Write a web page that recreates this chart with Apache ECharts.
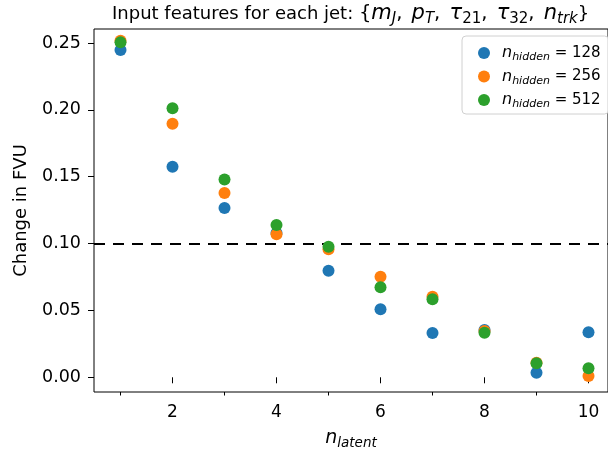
<!DOCTYPE html>
<html>
<head>
<meta charset="utf-8">
<script src="https://cdn.jsdelivr.net/npm/echarts@6/dist/echarts.min.js"></script>
<style>
html, body { margin: 0; padding: 0; background: #fff; }
#chart { width: 608px; height: 451px; }
</style>
</head>
<body>
<div id="chart"></div>
<script>
// values
const nLatent = [1, 2, 3, 4, 5, 6, 7, 8, 9, 10]
const hiddenSizes = ['128', '256', '512']
const fvu128 = [0.2448, 0.1575, 0.1266, 0.1080, 0.0797, 0.0509, 0.0331, 0.0354, 0.0034, 0.0337]
const fvu256 = [0.2517, 0.1897, 0.1378, 0.1070, 0.0957, 0.0752, 0.0603, 0.0346, 0.0109, 0.0010]
const fvu512 = [0.2505, 0.2012, 0.1480, 0.1139, 0.0977, 0.0673, 0.0583, 0.0334, 0.0105, 0.0067]
const threshold = 0.10
const yTicks = [0, 0.05, 0.10, 0.15, 0.20, 0.25]
const xMajorTicks = [2, 4, 6, 8, 10]
const xMinorTicks = [1, 3, 5, 7, 9]

const colors = ['#1f77b4', '#ff7f0e', '#2ca02c']
const FONT = 'DejaVu Sans'

const pairs = (ys) => nLatent.map((x, i) => [x, ys[i]])

// right spine sits at the canvas edge in the reference
const xRange = { min: 0.49, max: 10.375 }

const chart = echarts.init(document.getElementById('chart'))

const commonX = {
  type: 'value',
  min: xRange.min,
  max: xRange.max,
  splitLine: { show: false },
  axisLine: { show: false }
}

chart.setOption({
  animation: false,
  textStyle: { fontFamily: FONT },
  title: {
    left: 112,
    top: 2,
    padding: 0,
    text: '{r|Input features for each jet: }{b|{}{i|m}{s|J}{c|, }{i|p}{s|T}{c|, }{i|τ}{d|21}{c|, }{i|τ}{d|32}{c|, }{i|n}{s|trk}{b|}}',
    textStyle: {
      fontFamily: FONT,
      fontSize: 18,
      fontWeight: 'normal',
      color: '#000',
      lineHeight: 24,
      rich: {
        r: { fontSize: 18, lineHeight: 24, color: '#000' },
        b: { fontSize: 19.5, lineHeight: 24, color: '#000' },
        c: { fontSize: 19.5, lineHeight: 24, padding: [0, 3, 0, 0], color: '#000' },
        i: { fontSize: 21, lineHeight: 24, fontStyle: 'italic', color: '#000' },
        s: { fontSize: 15, lineHeight: 24, fontStyle: 'italic', padding: [11, 0, 0, 0], color: '#000' },
        d: { fontSize: 15, lineHeight: 24, padding: [11, 0, 0, 0], color: '#000' }
      }
    }
  },
  legend: {
    orient: 'vertical',
    left: 462,
    top: 36,
    data: hiddenSizes,
    icon: 'circle',
    itemWidth: 12,
    itemHeight: 12,
    itemGap: 3.5,
    padding: [7, 8, 4, 16],
    borderColor: '#d0d0d0',
    borderWidth: 1,
    borderRadius: 4,
    backgroundColor: 'rgba(255,255,255,0.8)',
    formatter: (name) => `{i|n}{s|hidden}{r| = ${name}}`,
    textStyle: {
      fontFamily: FONT,
      fontSize: 15,
      color: '#000',
      rich: {
        i: { fontSize: 16, lineHeight: 20, fontStyle: 'italic', padding: [0, 0, 0, 7], color: '#000' },
        s: { fontSize: 11, lineHeight: 20, fontStyle: 'italic', padding: [9, 0, 0, 0], color: '#000' },
        r: { fontSize: 15, lineHeight: 20, color: '#000' }
      }
    }
  },
  grid: {
    left: 94,
    right: 0,
    top: 29,
    bottom: 59,
    outerBoundsMode: 'none',
    show: true,
    borderColor: '#000',
    borderWidth: 1,
    backgroundColor: 'transparent'
  },
  xAxis: [
    {
      ...commonX,
      position: 'bottom',
      name: '{i|n}{s|latent}',
      nameLocation: 'middle',
      nameGap: 34,
      nameTextStyle: {
        fontFamily: FONT,
        fontSize: 19,
        color: '#000',
        rich: {
          i: { fontSize: 19, lineHeight: 24, fontStyle: 'italic', color: '#000' },
          s: { fontSize: 13.5, lineHeight: 24, fontStyle: 'italic', padding: [11, 0, 0, 0], color: '#000' }
        }
      },
      axisTick: {
        show: true,
        length: 6,
        lineStyle: { color: '#000', width: 1 },
        customValues: xMajorTicks
      },
      axisLabel: {
        fontFamily: FONT,
        fontSize: 17,
        color: '#000',
        margin: 12,
        customValues: xMajorTicks
      }
    },
    {
      ...commonX,
      position: 'bottom',
      axisTick: {
        show: true,
        length: 3.5,
        lineStyle: { color: '#000', width: 1 },
        customValues: xMinorTicks
      },
      axisLabel: { show: false }
    }
  ],
  yAxis: {
    type: 'value',
    min: -0.011,
    max: 0.2605,
    splitLine: { show: false },
    axisLine: { show: false },
    name: 'Change in FVU',
    nameLocation: 'middle',
    nameGap: 64,
    nameTextStyle: { fontFamily: FONT, fontSize: 18, color: '#000' },
    axisTick: {
      show: true,
      length: 6,
      lineStyle: { color: '#000', width: 1 },
      customValues: yTicks
    },
    axisLabel: {
      fontFamily: FONT,
      fontSize: 17.5,
      color: '#000',
      margin: 13,
      customValues: yTicks,
      formatter: (v) => v.toFixed(2)
    }
  },
  series: [
    {
      name: 'threshold',
      type: 'scatter',
      data: [],
      markLine: {
        silent: true,
        symbol: ['none', 'none'],
        label: { show: false },
        lineStyle: { color: '#000', type: [11, 8], width: 2 },
        data: [{ yAxis: threshold }]
      }
    },
    ...[fvu128, fvu256, fvu512].map((ys, k) => ({
      name: hiddenSizes[k],
      type: 'scatter',
      symbolSize: 12,
      itemStyle: { color: colors[k], opacity: 1 },
      data: pairs(ys),
      z: 3 + k
    }))
  ]
})
</script>
</body>
</html>
